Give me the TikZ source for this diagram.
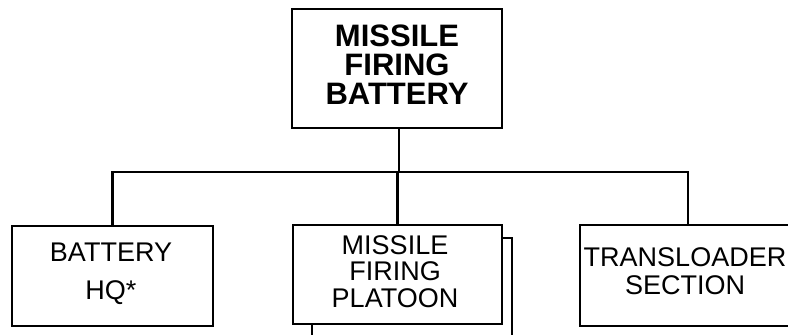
\documentclass[tikz,border=0pt]{standalone}
\usepackage{fontspec}
\setmainfont{Liberation Sans}
\begin{document}
\begin{tikzpicture}[x=1bp,y=-1bp,
  box/.style={draw=black,line width=2.4bp,fill=white,rectangle,inner sep=0pt},
  conn/.style={draw=black,line width=2.4bp},
  lbl/.style={align=center,inner sep=0pt,text=black}]
\useasboundingbox (0,0) rectangle (788,334);
\begin{scope}
\clip (0,0) rectangle (788,334);
% boxes
\node[box,minimum width=210bp,minimum height=119bp] (top) at (397,68.5) {};
\node[box,minimum width=201bp,minimum height=100bp] (hq) at (112.5,276) {};
\node[box,minimum width=200bp,minimum height=99bp] (shadow) at (412,287.5) {};
\node[box,minimum width=209bp,minimum height=99bp] (mid) at (397.5,274.5) {};
\node[box,minimum width=216bp,minimum height=101bp] (trans) at (688,275.5) {};
% labels
\node[lbl,font=\bfseries\fontsize{31bp}{29bp}\selectfont] (toplbl) at (397,65) {MISSILE\\FIRING\\BATTERY};
\node[lbl,font=\fontsize{27bp}{38bp}\selectfont] (hqlbl) at (111,274) {BATTERY\\HQ*};
\node[lbl,font=\fontsize{27bp}{26.5bp}\selectfont] (midlbl) at (395,271.5) {MISSILE\\FIRING\\PLATOON};
\node[lbl,font=\fontsize{27bp}{28bp}\selectfont] (translbl) at (685,271) {TRANSLOADER\\SECTION};
% connectors
\coordinate (bus) at (399,172);
\draw[conn] (top.south -| bus) -- (bus);
\draw[conn] (hq.north) |- (bus) -| (trans.north);
\draw[conn] (mid.north) -- (mid.north |- bus);
\end{scope}
\end{tikzpicture}
\end{document}
